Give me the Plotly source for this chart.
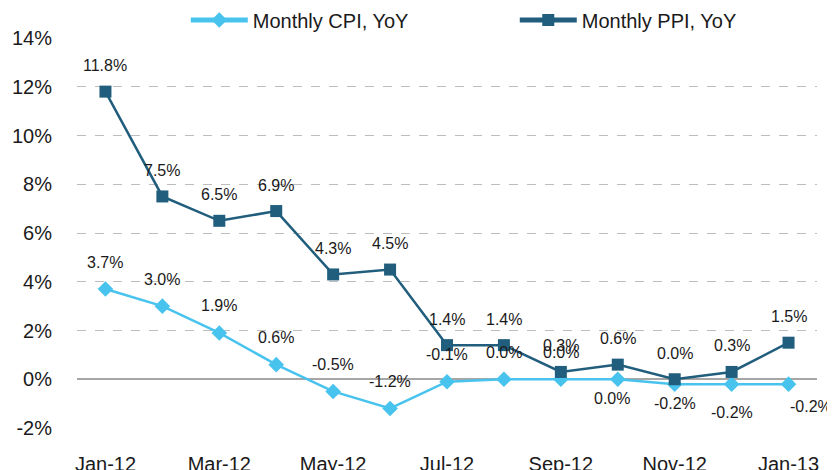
import plotly.graph_objects as go

months = ["Jan-12", "Feb-12", "Mar-12", "Apr-12", "May-12", "Jun-12", "Jul-12",
          "Aug-12", "Sep-12", "Oct-12", "Nov-12", "Dec-12", "Jan-13"]
cpi = [3.7, 3.0, 1.9, 0.6, -0.5, -1.2, -0.1, 0.0, 0.0, 0.0, -0.2, -0.2, -0.2]
ppi = [11.8, 7.5, 6.5, 6.9, 4.3, 4.5, 1.4, 1.4, 0.3, 0.6, 0.0, 0.3, 1.5]
tick_months = ["Jan-12", "Mar-12", "May-12", "Jul-12", "Sep-12", "Nov-12", "Jan-13"]
y_ticks = [-2, 0, 2, 4, 6, 8, 10, 12, 14]

CPI_COLOR = "#48C3EE"
PPI_COLOR = "#215D7C"
FONT = "Liberation Sans"

# label offsets (pixels) per point
cpi_shift = [(0, 27), (0, 27), (0, 27), (0, 27), (0, 27), (0, 27), (0, 27),
             (0, 27), (0, 27), (-6, -19), (0, -19), (0, -28), (22, -22)]
ppi_shift = [(0, 26)] * 13

fig = go.Figure()
fig.add_trace(go.Scatter(
    x=months, y=cpi, name="Monthly CPI, YoY", mode="lines+markers",
    line=dict(color=CPI_COLOR, width=2.5),
    marker=dict(symbol="diamond", size=12, color=CPI_COLOR),
))
fig.add_trace(go.Scatter(
    x=months, y=ppi, name="Monthly PPI, YoY", mode="lines+markers",
    line=dict(color=PPI_COLOR, width=2.5),
    marker=dict(symbol="square", size=12, color=PPI_COLOR),
))

for vals, shifts in ((ppi, ppi_shift), (cpi, cpi_shift)):
    for m, v, (dx, dy) in zip(months, vals, shifts):
        fig.add_annotation(x=m, y=v, text=f"{v:.1f}%", showarrow=False,
                           xshift=dx, yshift=dy,
                           font=dict(family=FONT, size=16, color="#1a1a1a"))

fig.update_layout(
    width=827, height=462,
    margin=dict(l=69, r=18, t=30, b=42, autoexpand=False),
    plot_bgcolor="white", paper_bgcolor="white",
    font=dict(family=FONT, size=18, color="#1a1a1a"),
    showlegend=True,
    legend=dict(orientation="h", x=0.147, xanchor="left", y=1.046, yanchor="middle",
                font=dict(size=20), bgcolor="rgba(0,0,0,0)",
                entrywidth=257, itemwidth=57, itemsizing="constant"),
)
fig.update_xaxes(
    type="category", categoryorder="array", categoryarray=months,
    range=[-0.5, 12.5], tickmode="array", tickvals=tick_months, ticktext=tick_months,
    showgrid=False, showline=False, zeroline=False, ticks="",
    ticklabelstandoff=22, tickfont=dict(size=20),
)
fig.update_yaxes(
    range=[-2, 14], tickmode="array", tickvals=y_ticks,
    ticktext=[f"{t}%" for t in y_ticks],
    showgrid=True, gridcolor="#BDBDBD", griddash="dash", gridwidth=1,
    zeroline=True, zerolinecolor="#A6A6A6", zerolinewidth=2,
    showline=False, ticks="", ticklabelstandoff=24, tickfont=dict(size=20),
)

fig.write_html("out.html")
